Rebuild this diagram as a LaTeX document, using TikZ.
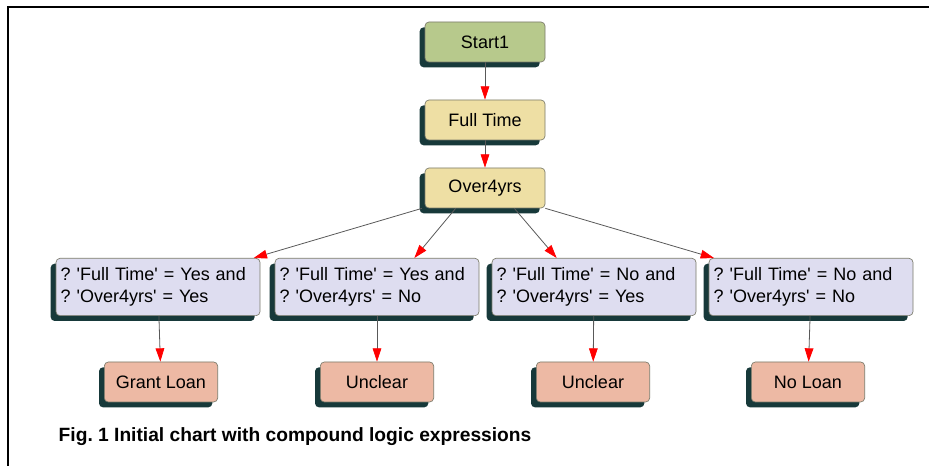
\documentclass[tikz,border=0pt]{standalone}
\usepackage{fontspec}
\setmainfont{Liberation Sans}
\usetikzlibrary{arrows.meta,shadows}
\definecolor{startgreen}{HTML}{B7C98C}
\definecolor{stepyellow}{HTML}{EEDFA4}
\definecolor{condlilac}{HTML}{DEDDF0}
\definecolor{endsalmon}{HTML}{EDB9A4}
\definecolor{shadowteal}{HTML}{17393A}
\definecolor{boxedge}{HTML}{7A7A6A}
\newcommand{\sq}{\textquotesingle}
\begin{document}
\frenchspacing
\begin{tikzpicture}[x=0.75pt, y=-0.75pt,
    box/.style={draw=boxedge, line width=0.5pt, rounded corners=3pt,
        font=\fontsize{13.5}{16}\selectfont,
        drop shadow={shadow xshift=-4pt, shadow yshift=-4pt, fill=shadowteal, opacity=1}},
    topbox/.style={box, minimum width=90pt, minimum height=30pt},
    condbox/.style={box, fill=condlilac, minimum width=153pt, minimum height=43pt,
        align=left, text width=146pt, font=\fontsize{13.5}{16.5}\selectfont},
    endbox/.style={box, fill=endsalmon, minimum width=85pt, minimum height=30pt},
    link/.style={draw=black!65, line width=0.6pt,
        -{Triangle[length=10pt, width=6.5pt, fill=red, color=red]}}]
    \useasboundingbox (0,0) rectangle (929,466);
    \draw[line width=1.5pt] (8,466) -- (8,7) -- (929,7);
    % top of the chart
    \node[topbox, fill=startgreen] (start) at (485,42) {Start1};
    \node[topbox, fill=stepyellow] (full) at (485,120) {Full Time};
    \node[topbox, fill=stepyellow] (over) at (485,188) {Over4yrs};
    % compound expressions
    \node[condbox] (c1) at (158,287) {? \sq Full Time\sq{} = Yes and\\? \sq Over4yrs\sq{} = Yes};
    \node[condbox] (c2) at (377,287) {? \sq Full Time\sq{} = Yes and\\? \sq Over4yrs\sq{} = No};
    \node[condbox] (c3) at (594,287) {? \sq Full Time\sq{} = No and\\? \sq Over4yrs\sq{} = Yes};
    \node[condbox] (c4) at (811,287) {? \sq Full Time\sq{} = No and\\? \sq Over4yrs\sq{} = No};
    % outcomes
    \node[endbox] (r1) at (161,382) {Grant Loan};
    \node[endbox] (r2) at (377,382) {Unclear};
    \node[endbox] (r3) at (593,382) {Unclear};
    \node[endbox] (r4) at (808,382) {No Loan};
    \draw[link] (start) -- (full);
    \draw[link] (full) -- (over);
    \draw[link] ([xshift=-2pt]over.south west) -- ([xshift=-5pt]c1.north east);
    \draw[link] ([xshift=-22pt]over.south) -- ([xshift=28pt]c2.north);
    \draw[link] ([xshift=22pt]over.south) -- ([xshift=-28pt]c3.north);
    \draw[link] (over.south east) -- ([xshift=4pt]c4.north west);
    \foreach \i in {1,...,4}
        \draw[link] (c\i) -- (r\i);
    \node[anchor=west, font=\bfseries\fontsize{14.4}{17}\selectfont] (caption) at (54,437)
        {Fig. 1 Initial chart with compound logic expressions};
\end{tikzpicture}
\end{document}
